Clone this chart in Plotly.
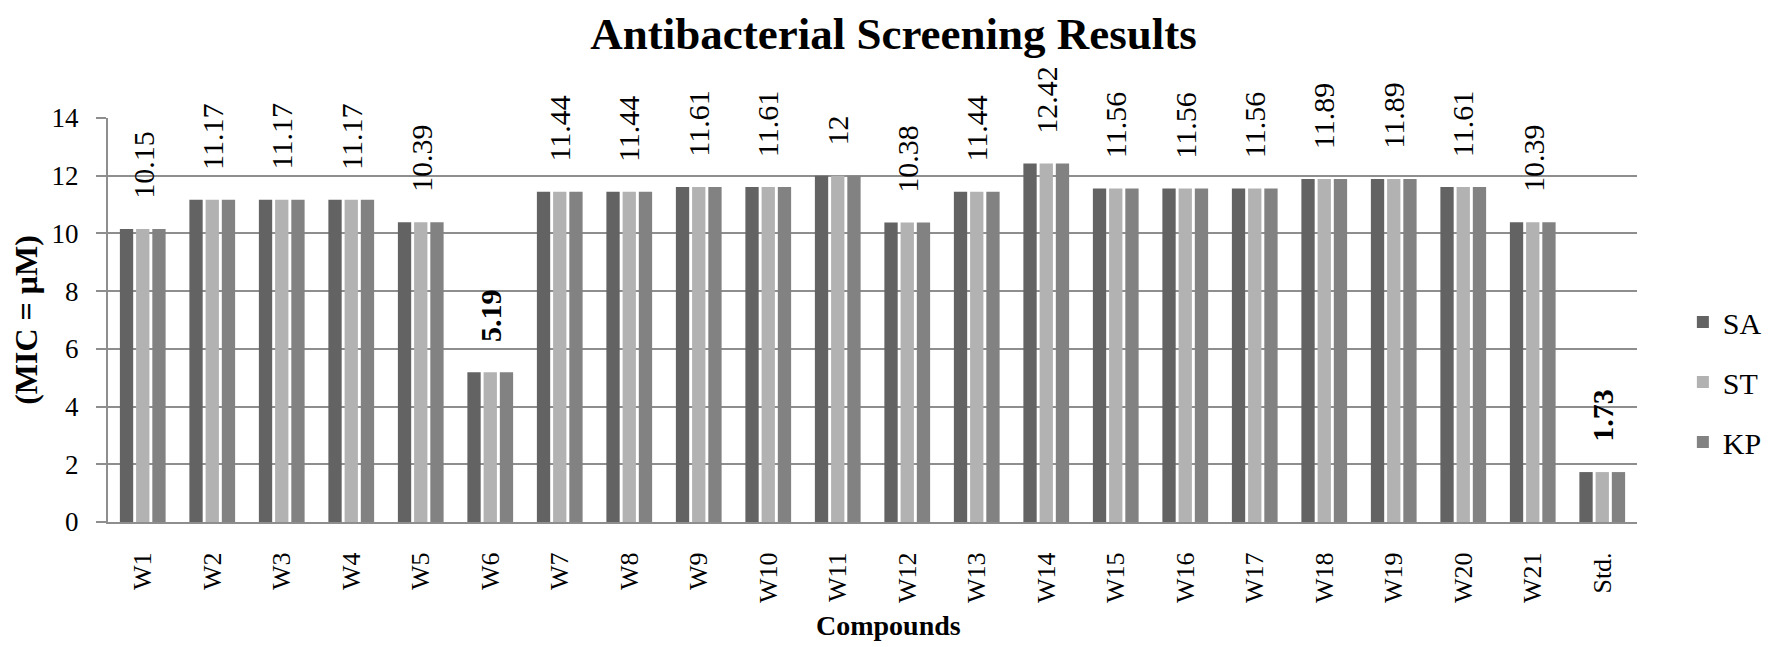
import plotly.graph_objects as go

compounds = ["W1", "W2", "W3", "W4", "W5", "W6", "W7", "W8", "W9", "W10", "W11",
             "W12", "W13", "W14", "W15", "W16", "W17", "W18", "W19", "W20", "W21", "Std."]
sa = [10.15, 11.17, 11.17, 11.17, 10.39, 5.19, 11.44, 11.44, 11.61, 11.61, 12,
      10.38, 11.44, 12.42, 11.56, 11.56, 11.56, 11.89, 11.89, 11.61, 10.39, 1.73]
st = [10.15, 11.17, 11.17, 11.17, 10.39, 5.19, 11.44, 11.44, 11.61, 11.61, 12,
      10.38, 11.44, 12.42, 11.56, 11.56, 11.56, 11.89, 11.89, 11.61, 10.39, 1.73]
kp = [10.15, 11.17, 11.17, 11.17, 10.39, 5.19, 11.44, 11.44, 11.61, 11.61, 12,
      10.38, 11.44, 12.42, 11.56, 11.56, 11.56, 11.89, 11.89, 11.61, 10.39, 1.73]
label_values = ["10.15", "11.17", "11.17", "11.17", "10.39", "5.19", "11.44", "11.44",
                "11.61", "11.61", "12", "10.38", "11.44", "12.42", "11.56", "11.56",
                "11.56", "11.89", "11.89", "11.61", "10.39", "1.73"]
bold_labels = ["W6", "Std."]

series = [("SA", sa, "#636363"), ("ST", st, "#b2b2b2"), ("KP", kp, "#828282")]

FONT = "Liberation Serif, Times New Roman, serif"
GRID = "#8e8e8e"

fig = go.Figure()
for name, vals, color in series:
    fig.add_trace(go.Bar(
        x=compounds, y=vals, name=name, legendgroup=name,
        marker=dict(color=color, line=dict(width=0)),
    ))

annotations = []
for c, v, t in zip(compounds, sa, label_values):
    txt = f"<b>{t}</b>" if c in bold_labels else t
    annotations.append(dict(
        x=c, y=v, xref="x", yref="y", text=txt, showarrow=False,
        textangle=-90, xanchor="center", yanchor="bottom", yshift=28,
        font=dict(family=FONT, size=30, color="#000000"),
    ))

annotations.append(dict(
    x=(885 - 100) / 1538, y=(514 - 617) / 404, xref="paper", yref="paper",
    text="<b>Compounds</b>", showarrow=False, xanchor="center", yanchor="middle",
    font=dict(family=FONT, size=28, color="#000000"),
))

fig.update_layout(
    width=1771, height=647,
    paper_bgcolor="white", plot_bgcolor="white",
    margin=dict(l=100, r=133, t=110, b=133),
    barmode="group", bargap=0.3, bargroupgap=0.18,
    title=dict(text="<b>Antibacterial Screening Results</b>", x=0.5, xanchor="center",
               y=1 - 9 / 647, yanchor="top", yref="container",
               font=dict(family=FONT, size=45, color="#000000")),
    font=dict(family=FONT, color="#000000"),
    legend=dict(x=1.03, xanchor="left", y=(514 - 374) / 404, yanchor="middle",
                font=dict(family=FONT, size=30, color="#000000"),
                tracegroupgap=18, bgcolor="rgba(0,0,0,0)"),
    annotations=annotations,
    showlegend=True,
)

fig.update_xaxes(
    type="category", range=[-0.5, len(compounds) - 0.5],
    tickangle=-90, tickfont=dict(family=FONT, size=26, color="#000000"),
    showline=True, linecolor=GRID, linewidth=2, showgrid=False,
    ticks="", ticklabelstandoff=18,
)
fig.update_yaxes(
    range=[0, 14], dtick=2, tick0=0,
    tickfont=dict(family=FONT, size=27, color="#000000"),
    showgrid=True, gridcolor=GRID, gridwidth=2,
    showline=True, linecolor=GRID, linewidth=2,
    ticks="outside", ticklen=10, tickcolor=GRID, tickwidth=2,
    zeroline=False, ticklabelstandoff=12,
    title=dict(text="<b>(MIC = μM)</b>", standoff=6,
               font=dict(family=FONT, size=32, color="#000000")),
)

fig.write_html("out.html")
